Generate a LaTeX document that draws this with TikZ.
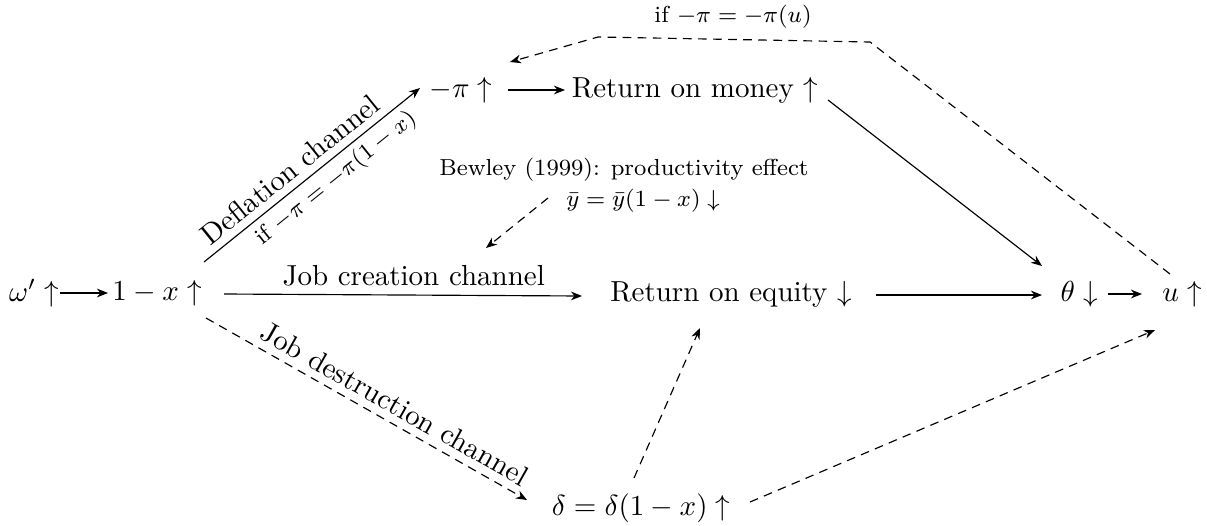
\documentclass[tikz,border=0pt]{standalone}
\usetikzlibrary{calc,arrows.meta}
\begin{document}
\begin{tikzpicture}[x=0.345pt,y=-0.345pt,
  box/.style={inner sep=0pt},
  lbl/.style={inner sep=0pt,font=\footnotesize},
  arr/.style={-{Stealth[length=3.8pt,width=3pt,inset=1.2pt]}},
  darr/.style={arr,dash pattern=on 3pt off 2.2pt}]
\useasboundingbox (0,0) rectangle (1207,525);
\node[box] (w) at (34,293) {$\omega'\uparrow$};
\node[box] (onex) at (157,293) {$1-x\uparrow$};
\node[box] (pi) at (461,90) {$-\pi\uparrow$};
\node[box] (rom) at (695,90) {Return on money $\uparrow$};
\node[box] (roe) at (731,294) {Return on equity $\downarrow$};
\node[box] (theta) at (1079,294) {$\theta\downarrow$};
\node[box] (u) at (1182,294) {$u\uparrow$};
\node[box] (delta) at (641,508) {$\delta=\delta(1-x)\uparrow$};
\node[lbl] (bew) at (624,170) {Bewley (1999): productivity effect};
\node[lbl] (ybar) at (643,201) {$\bar y=\bar y(1-x)\downarrow$};
\node[lbl] (ifu) at (733,17) {if $-\pi=-\pi(u)$};
\coordinate (bewend) at (486,248);
\coordinate (c1) at (870,42);
\coordinate (c2) at (598,37);

\draw[arr] ($(w)+(26,0)$) -- ($(onex)+(-49,0)$);
\draw[arr] ($(onex)+(47,-31)$) -- node[pos=0.45,sloped,above,inner sep=2.5pt]{Deflation channel}
  node[pos=0.56,sloped,below,inner sep=2pt,font=\footnotesize]{if $-\pi=-\pi(1-x)$} ($(pi)+(-41,-2)$);
\draw[arr] ($(onex)+(67,1)$) -- node[pos=0.53,above,inner sep=3pt]{Job creation channel} ($(roe)+(-149,2)$);
\draw[darr] ($(onex)+(49,25)$) -- node[pos=0.56,sloped,above,inner sep=2.5pt]{Job destruction channel} ($(delta)+(-114,-8)$);
\draw[arr] ($(pi)+(47,0)$) -- ($(rom)+(-130,0)$);
\draw[arr] ($(rom)+(133,10)$) -- ($(theta)+(-37,-28)$);
\draw[arr] ($(roe)+(145,1)$) -- ($(theta)+(-37,1)$);
\draw[arr] ($(theta)+(29,0)$) -- ($(u)+(-40,0)$);
\draw[darr] ($(delta)+(-7,-30)$) -- ($(roe)+(-31,34)$);
\draw[darr] ($(delta)+(109,-6)$) -- ($(u)+(-27,36)$);
\draw[darr] ($(bew)+(-76,28)$) -- (bewend);
\draw[darr] ($(u)+(-12,-20)$) -- (c1) -- (c2) -- ($(pi)+(49,-28)$);
\end{tikzpicture}
\end{document}
